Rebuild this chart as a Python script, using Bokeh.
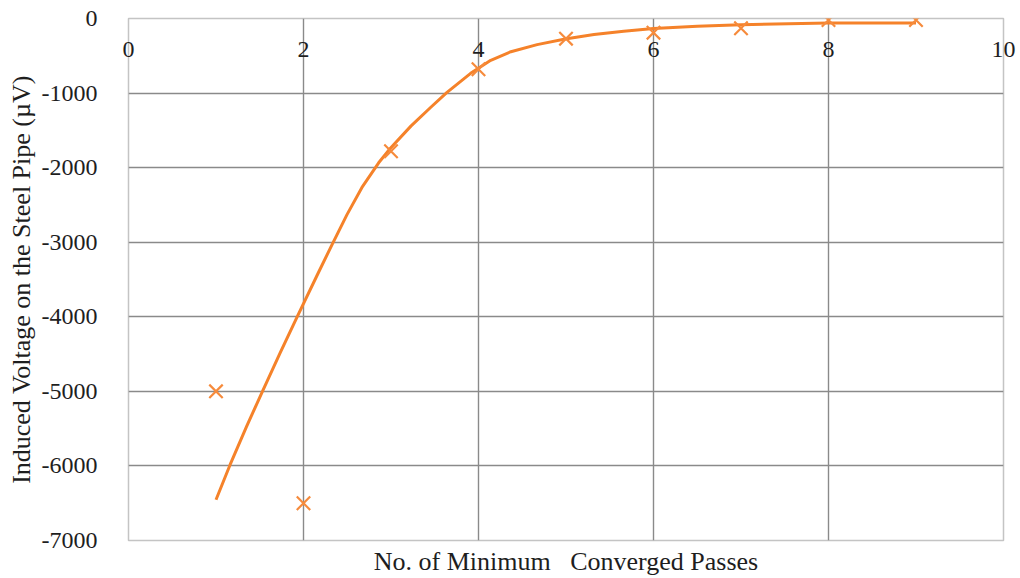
from bokeh.plotting import figure
from bokeh.models import Range1d, FixedTicker, LinearAxis
from bokeh.embed import file_html
from bokeh.resources import INLINE

# Measured data points (markers)
passes = [1, 2, 3, 4, 5, 6, 7, 8, 9]
voltage = [-5000, -6500, -1780, -680, -270, -190, -130, -20, -20]

# Trend curve
curve_x = [1.0, 1.16, 1.35, 1.535, 1.733, 1.93, 2.153, 2.325, 2.497, 2.668, 2.859, 2.993,
           3.23, 3.455, 3.64, 3.91, 4.14, 4.37, 4.67, 4.99, 5.32, 5.66, 6.0, 6.5, 7.0, 8.0, 9.0]
curve_y = [-6453, -5987, -5470, -4990, -4485, -3995, -3450, -3035, -2630, -2265, -1935, -1740,
           -1440, -1190, -990, -735, -560, -445, -350, -275, -215, -170, -135, -105, -83, -62, -60]

x_ticks = [0, 2, 4, 6, 8, 10]
x_tick_labels = ["0", "2", "4", "6", "8", "10"]
y_ticks = [0, -1000, -2000, -3000, -4000, -5000, -6000, -7000]
y_tick_labels = ["0", "-1000", "-2000", "-3000", "-4000", "-5000", "-6000", "-7000"]

FONT = "Liberation Serif"
ORANGE = "#F5822A"
MARK = "#F68B3C"
GRID = "#8a8a8a"
TXT = "#1e1e1e"

p = figure(width=1016, height=578, output_backend="svg", toolbar_location=None,
           x_range=Range1d(0, 10), y_range=Range1d(-7000, 0),
           min_border_left=128, min_border_right=13, min_border_top=18, min_border_bottom=37)

p.background_fill_color = "white"
p.border_fill_color = "white"
p.outline_line_color = "#c4c4c4"
p.outline_line_width = 1.5

# grids
p.xgrid.ticker = FixedTicker(ticks=x_ticks)
p.ygrid.ticker = FixedTicker(ticks=y_ticks)
for g in (p.xgrid, p.ygrid):
    g.grid_line_color = GRID
    g.grid_line_width = 1.4

# y axis
p.yaxis.ticker = FixedTicker(ticks=y_ticks)
p.yaxis.major_label_overrides = {t: s for t, s in zip(y_ticks, y_tick_labels)}
p.yaxis.axis_line_color = None
p.yaxis.major_tick_line_color = None
p.yaxis.minor_tick_line_color = None
p.yaxis.major_label_text_font = FONT
p.yaxis.major_label_text_font_size = "24px"
p.yaxis.major_label_text_color = TXT
p.yaxis.major_label_standoff = 25
p.yaxis.axis_label = "Induced Voltage on the Steel Pipe (\u00b5V)"
p.yaxis.axis_label_text_font = FONT
p.yaxis.axis_label_text_font_style = "normal"
p.yaxis.axis_label_text_font_size = "26px"
p.yaxis.axis_label_text_color = TXT
p.yaxis.axis_label_standoff = 3

# x axis (title only)
p.xaxis.ticker = FixedTicker(ticks=x_ticks)
p.xaxis.axis_line_color = None
p.xaxis.major_tick_line_color = None
p.xaxis.minor_tick_line_color = None
p.xaxis.major_label_text_font_size = "0px"
p.xaxis.major_label_standoff = 0
p.xaxis.axis_label = "No. of Minimum\u00a0\u00a0\u00a0Converged Passes"
p.xaxis.axis_label_text_font = FONT
p.xaxis.axis_label_text_font_style = "normal"
p.xaxis.axis_label_text_font_size = "26px"
p.xaxis.axis_label_text_color = TXT
p.xaxis.axis_label_standoff = 0

# x tick labels next to the y=0 axis line (top of plot, drawn inside)
top_axis = LinearAxis(ticker=FixedTicker(ticks=x_ticks),
                      major_label_overrides={t: s for t, s in zip(x_ticks, x_tick_labels)},
                      axis_line_color=None, major_tick_line_color=None, minor_tick_line_color=None,
                      major_label_text_font=FONT, major_label_text_font_size="24px",
                      major_label_text_color=TXT, major_label_standoff=-44)
p.add_layout(top_axis, "above")

# trend curve
p.line(curve_x, curve_y, line_color=ORANGE, line_width=3, line_join="round")

# markers
p.scatter(passes, voltage, marker="x", size=19, line_color=MARK, line_width=2.2)

open("out.html", "w").write(file_html(p, INLINE))
